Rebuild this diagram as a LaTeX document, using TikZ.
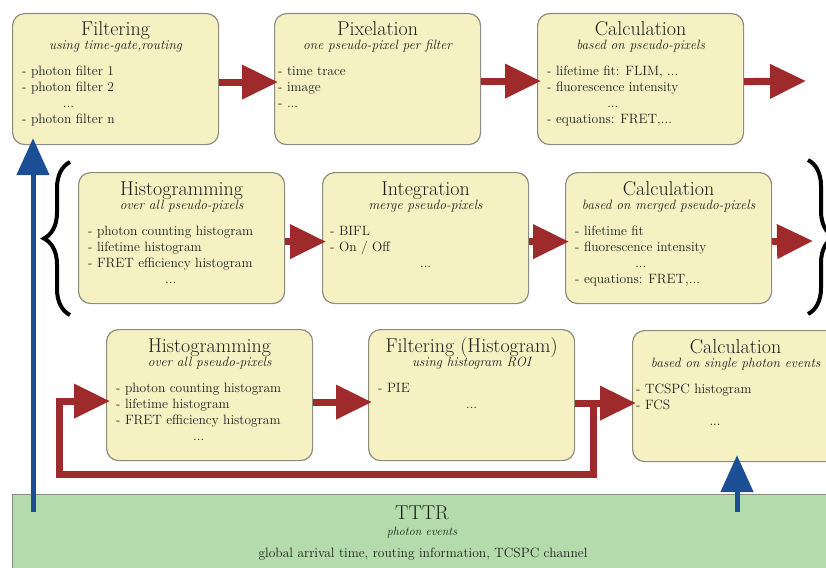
\documentclass[tikz,border=0pt]{standalone}
\usetikzlibrary{calc, arrows.meta, decorations.pathreplacing}

\definecolor{boxfill}{HTML}{F6F1C2}
\definecolor{boxline}{HTML}{8E8C7E}
\definecolor{flowred}{HTML}{9E2A2C}
\definecolor{feedblue}{HTML}{1B4E95}
\definecolor{tttrgreen}{HTML}{B4DBAB}
\definecolor{inktext}{HTML}{1E1E1E}

% 列表中居中的省略行
\newcommand\dotrow{\multicolumn{1}{@{}c@{}}{...}}

\begin{document}
\begin{tikzpicture}[x=1pt, y=-1pt, inktext,
  stage/.style={draw=boxline, line width=1.2pt, fill=boxfill, rounded corners=12pt,
    minimum width=206pt, minimum height=131pt, anchor=north west, inner sep=0pt},
  stagetitle/.style={anchor=base, inner sep=0pt, font=\fontsize{20}{22}\selectfont},
  stagesub/.style={anchor=base, inner sep=0pt, font=\fontsize{13.5}{16}\selectfont\itshape},
  stagelist/.style={anchor=base west, inner sep=0pt, font=\fontsize{13.5}{16}\selectfont},
  stagedots/.style={anchor=base, inner sep=0pt, font=\fontsize{13.5}{16}\selectfont},
  flow/.style={draw=flowred, line width=7pt, -{Triangle[length=36pt, width=33pt]}, shorten >=-4pt},
  feed/.style={draw=feedblue, line width=5pt, -{Triangle[length=37pt, width=32pt]}, shorten >=-7pt},
  curly/.style={draw=black, line width=4pt, decorate, decoration={brace, amplitude=26pt}}]

  \clip (0,0) rectangle (826,567);

  % 底部 TTTR 数据
  \node[draw=boxline, line width=1.2pt, fill=tttrgreen, anchor=north west,
    minimum width=840pt, minimum height=110pt, inner sep=0pt] (tttr) at (12,494) {};
  \node[stagetitle] (tttr-t) at ($(tttr.north west)+(410,25)$) {TTTR};
  \node[stagesub, font=\fontsize{12}{14}\selectfont\itshape] (tttr-s) at ($(tttr.north west)+(410,41)$) {photon events};
  \node[stagedots] (tttr-l) at ($(tttr.north west)+(411,63)$) {global arrival time, routing information, TCSPC channel};

  % 第一行：Filtering -> Pixelation -> Calculation
  \node[stage] (filt) at (12,13) {};
  \node[stage] (pix) at (274,13) {};
  \node[stage] (calcA) at (537,13) {};

  \node[stagetitle] (filt-t) at ($(filt.north)+(0,23)$) {Filtering};
  \node[stagesub] (filt-s) at ($(filt.north)+(0,37)$) {using time-gate,routing};
  \node[stagelist] (filt-l) at ($(filt.north west)+(10,63)$)
    {\begin{tabular}[t]{@{}l@{}}- photon filter 1\\- photon filter 2\\\dotrow\\- photon filter n\end{tabular}};

  \node[stagetitle] (pix-t) at ($(pix.north)+(0,23)$) {Pixelation};
  \node[stagesub] (pix-s) at ($(pix.north)+(0,37)$) {one pseudo-pixel per filter};
  \node[stagelist] (pix-l) at ($(pix.north west)+(4,63)$)
    {\begin{tabular}[t]{@{}l@{}}- time trace\\- image\\- ...\end{tabular}};

  \node[stagetitle] (calcA-t) at ($(calcA.north)+(0,23)$) {Calculation};
  \node[stagesub] (calcA-s) at ($(calcA.north)+(0,37)$) {based on pseudo-pixels};
  \node[stagelist] (calcA-l) at ($(calcA.north west)+(10,63)$)
    {\begin{tabular}[t]{@{}l@{}}- lifetime fit: FLIM, ...\\- fluorescence intensity\\\dotrow\\- equations: FRET,...\end{tabular}};

  % 第二行：合并伪像素
  \node[stage] (histA) at (78,172) {};
  \node[stage] (integ) at (322,172) {};
  \node[stage] (calcB) at (565,172) {};

  \node[stagetitle] (histA-t) at ($(histA.north)+(0,23)$) {Histogramming};
  \node[stagesub] (histA-s) at ($(histA.north)+(0,37)$) {over all pseudo-pixels};
  \node[stagelist] (histA-l) at ($(histA.north west)+(10,63)$)
    {\begin{tabular}[t]{@{}l@{}}- photon counting histogram\\- lifetime histogram\\- FRET efficiency histogram\\\dotrow\end{tabular}};

  \node[stagetitle] (integ-t) at ($(integ.north)+(0,23)$) {Integration};
  \node[stagesub] (integ-s) at ($(integ.north)+(0,37)$) {merge pseudo-pixels};
  \node[stagelist] (integ-l) at ($(integ.north west)+(8,63)$)
    {\begin{tabular}[t]{@{}l@{}}- BIFL\\- On / Off\end{tabular}};
  \node[stagedots] (integ-d) at ($(integ.north)+(0,95)$) {...};

  \node[stagetitle] (calcB-t) at ($(calcB.north)+(0,23)$) {Calculation};
  \node[stagesub] (calcB-s) at ($(calcB.north)+(0,37)$) {based on merged pseudo-pixels};
  \node[stagelist] (calcB-l) at ($(calcB.north west)+(10,63)$)
    {\begin{tabular}[t]{@{}l@{}}- lifetime fit\\- fluorescence intensity\\\dotrow\\- equations: FRET,...\end{tabular}};

  % 第三行：直方图筛选
  \node[stage] (histB) at (106,329) {};
  \node[stage] (filtH) at (368,329) {};
  \node[stage] (calcC) at (632,330) {};

  \node[stagetitle] (histB-t) at ($(histB.north)+(0,23)$) {Histogramming};
  \node[stagesub] (histB-s) at ($(histB.north)+(0,37)$) {over all pseudo-pixels};
  \node[stagelist] (histB-l) at ($(histB.north west)+(10,63)$)
    {\begin{tabular}[t]{@{}l@{}}- photon counting histogram\\- lifetime histogram\\- FRET efficiency histogram\\\dotrow\end{tabular}};

  \node[stagetitle] (filtH-t) at ($(filtH.north)+(0,23)$) {Filtering (Histogram)};
  \node[stagesub] (filtH-s) at ($(filtH.north)+(0,37)$) {using histogram ROI};
  \node[stagelist] (filtH-l) at ($(filtH.north west)+(10,63)$) {- PIE};
  \node[stagedots] (filtH-d) at ($(filtH.north)+(0,79)$) {...};

  \node[stagetitle] (calcC-t) at ($(calcC.north)+(0,23)$) {Calculation};
  \node[stagesub] (calcC-s) at ($(calcC.north)+(0,37)$) {based on single photon events};
  \node[stagelist] (calcC-l) at ($(calcC.north west)+(4,63)$)
    {\begin{tabular}[t]{@{}l@{}}- TCSPC histogram\\- FCS\end{tabular}};
  \node[stagedots] (calcC-d) at ($(calcC.north west)+(83,95)$) {...};

  % 第二行两侧的大括号
  \draw[curly] (70,315) -- (70,162);
  \draw[curly] (808,160) -- (808,314);

  % 红色流程箭头
  \coordinate (outA) at (802,81);
  \coordinate (outB) at (809,241);
  \draw[flow] ([yshift=-3pt]filt.east) -- ([yshift=-3pt]pix.west);
  \draw[flow] ([yshift=-2pt]pix.east) -- ([yshift=-2pt]calcA.west);
  \draw[flow] ([yshift=-2.5pt]calcA.east) -- (outA);
  \draw[flow] ([yshift=-3.5pt]histA.east) -- ([yshift=-3.5pt]integ.west);
  \draw[flow] ([yshift=-3.5pt]integ.east) -- ([yshift=-3.5pt]calcB.west);
  \draw[flow] ([yshift=-3.5pt]calcB.east) -- (outB);
  \draw[flow] ([yshift=-7pt]histB.east) -- ([yshift=-7pt]filtH.west);

  % 回路：分支到计算，或回到直方图
  \coordinate (fork) at ($(filtH.east)+(18,8)$);
  \coordinate (loopL) at (59,474);
  \draw[flow] ([yshift=-8pt]filtH.east) -- (fork -| calcC.west);
  \draw[flow] (fork) |- (loopL) |- ([yshift=-6pt]histB.west);

  % 蓝色：TTTR 直接输入
  \coordinate (tapL) at (33,512);
  \coordinate (tapR) at (737,512);
  \draw[feed] (tapL) -- (tapL |- filt.south);
  \draw[feed] (tapR) -- (tapR |- calcC.south);
\end{tikzpicture}
\end{document}
